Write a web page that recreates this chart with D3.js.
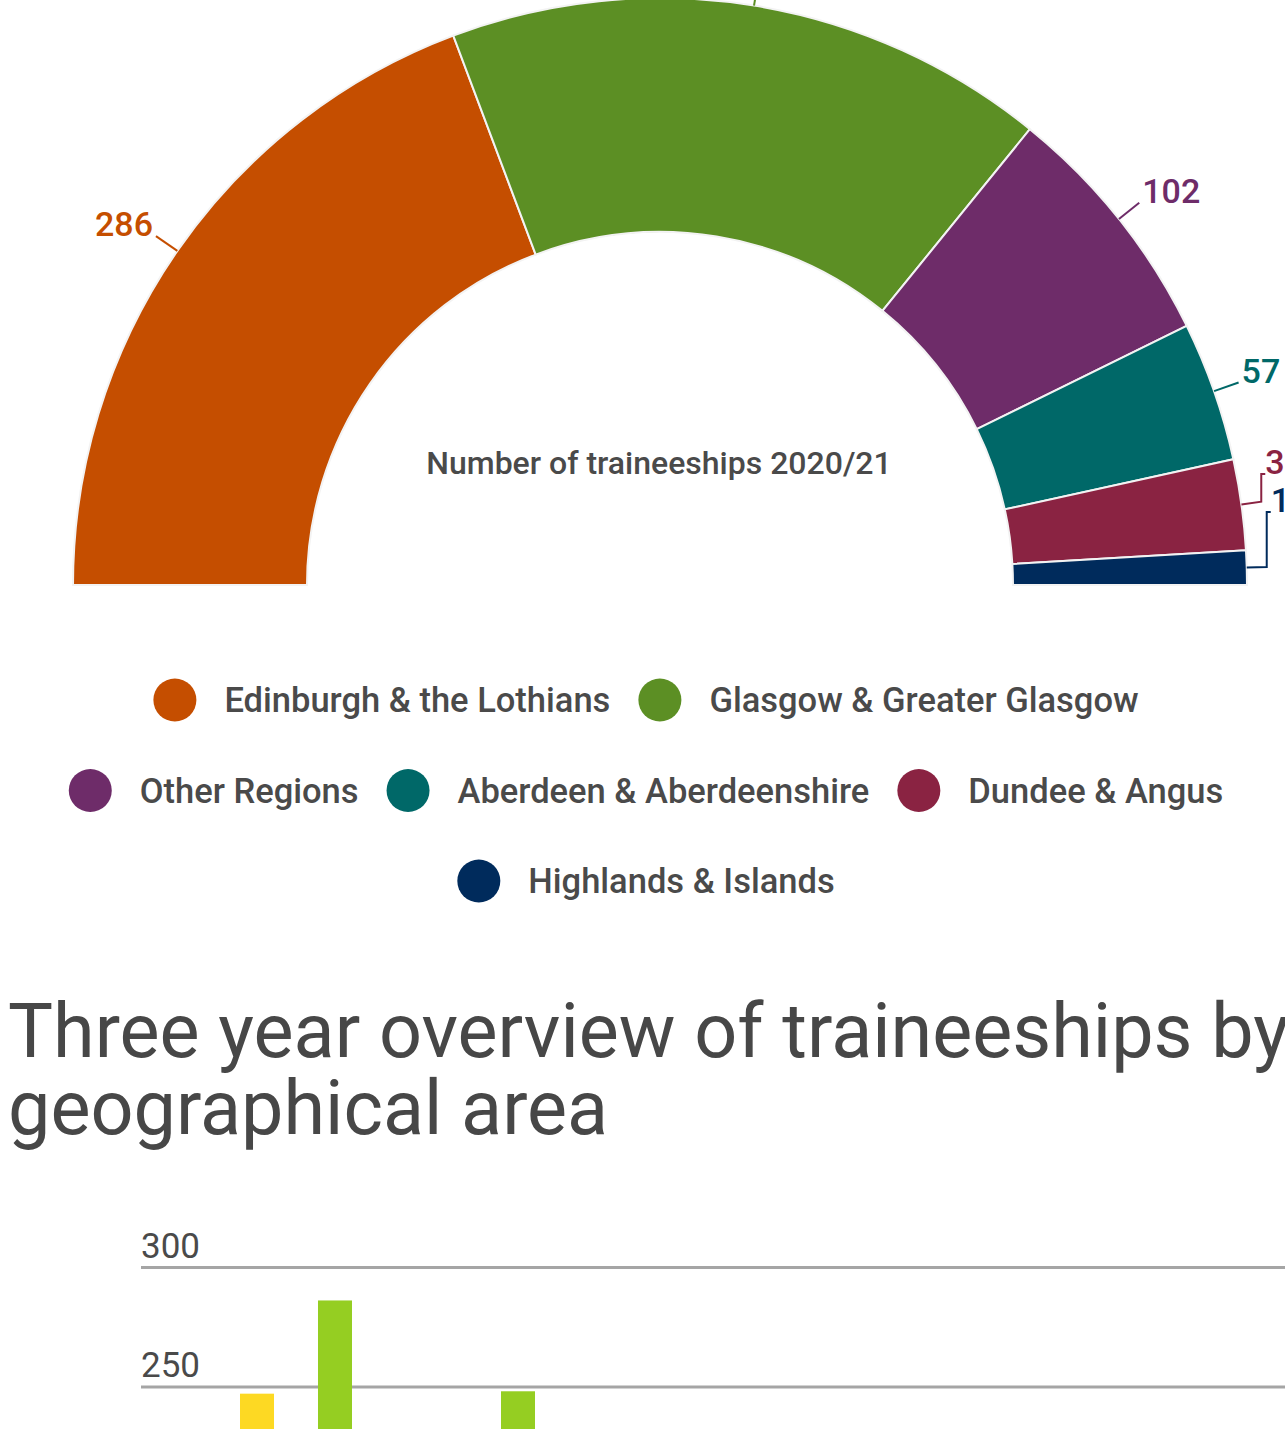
<!DOCTYPE html>
<html>
<head>
<meta charset="utf-8">
<script src="https://cdn.jsdelivr.net/npm/d3@7"></script>
<style>
  body { margin: 0; background: #fff; }
  svg { display: block; font-family: Roboto, sans-serif; }
</style>
</head>
<body>
<svg id="chart"></svg>
<script>
// half donut data (2020/21)
const regions = ['Edinburgh & the Lothians', 'Glasgow & Greater Glasgow', 'Other Regions',
  'Aberdeen & Aberdeenshire', 'Dundee & Angus', 'Highlands & Islands'];
const regionColors = ['#c54e00', '#5c8f24', '#6e2c69', '#006868', '#8a2342', '#002b5c'];
const traineeships2021 = [286, 246, 102, 57, 37, 14];

// three year overview data
const years = ['2018/19', '2019/20', '2020/21'];
const yearColors = ['#fdd923', '#2aa8c9', '#95ce22'];
const values1819 = [247, 201, 118, 64, 41, 19];
const values1920 = [228, 219, 109, 61, 35, 17];
const values2021 = [286, 248, 102, 57, 37, 14];
const yTicks = [0, 50, 100, 150, 200, 250, 300];

const width = 1285, height = 1429;
const textColor = '#4a4a4a';

const svg = d3.select('#chart')
  .attr('width', width)
  .attr('height', height);

// ---- half donut ----
const cx = 660, cy = 585, outerR = 587, innerR = 353;

const pie = d3.pie()
  .sort(null)
  .startAngle(-Math.PI / 2)
  .endAngle(Math.PI / 2);
const arc = d3.arc().innerRadius(innerR).outerRadius(outerR);
const arcs = pie(traineeships2021);

const donut = svg.append('g').attr('transform', `translate(${cx},${cy})`);

donut.selectAll('path.slice')
  .data(arcs)
  .join('path')
  .attr('class', 'slice')
  .attr('d', arc)
  .attr('fill', (d, i) => regionColors[i])
  .attr('stroke', '#f3f3f3')
  .attr('stroke-width', 2);

// labels: short radial leader, crowded ones pushed up with an elbow
const leadLen = 26, elbowLen = 20, labelGap = 38, labelFloor = -73;
const labels = arcs.map((d, i) => {
  const a = (d.startAngle + d.endAngle) / 2;
  const sx = Math.sin(a), sy = -Math.cos(a);
  return {
    i, sx, sy,
    p0: [sx * outerR, sy * outerR],
    p1: [sx * (outerR + leadLen), sy * (outerR + leadLen)],
    y: sy * (outerR + leadLen),
    right: sx > 0
  };
});

[true, false].forEach(side => {
  let limit = labelFloor;
  labels.filter(l => l.right === side)
    .sort((a, b) => b.p1[1] - a.p1[1])
    .forEach(l => {
      if (l.p1[1] > limit) { l.moved = true; l.y = limit; }
      limit = l.y - labelGap;
    });
});

labels.forEach(l => {
  const dir = l.right ? 1 : -1;
  let pts, tx;
  if (l.moved) {
    const e = [l.sx * (outerR + elbowLen), l.sy * (outerR + elbowLen)];
    pts = [l.p0, e, [e[0], l.y], [e[0] + 4 * dir, l.y]];
    tx = e[0] + 4 * dir;
  } else {
    pts = [l.p0, l.p1];
    tx = l.p1[0] + 3 * dir;
  }
  donut.append('path')
    .attr('d', d3.line()(pts))
    .attr('fill', 'none')
    .attr('stroke', regionColors[l.i])
    .attr('stroke-width', 2);
  donut.append('text')
    .attr('x', tx)
    .attr('y', l.y)
    .attr('text-anchor', l.right ? 'start' : 'end')
    .attr('fill', regionColors[l.i])
    .attr('font-size', 34)
    .attr('font-weight', 500)
    .text(traineeships2021[l.i]);
});

donut.append('text')
  .attr('x', -1)
  .attr('y', -111)
  .attr('text-anchor', 'middle')
  .attr('fill', textColor)
  .attr('font-size', 32)
  .attr('font-weight', 500)
  .text('Number of traineeships 2020/21');

// ---- legend ----
const legendMax = 1250, legendTop = 700, rowH = 90.5, dotR = 21.5, dotGap = 28;
const legend = svg.append('g');
const items = regions.map((name, i) => {
  const g = legend.append('g');
  g.append('circle').attr('r', dotR).attr('cx', dotR).attr('fill', regionColors[i]);
  const t = g.append('text')
    .attr('x', dotR * 2 + dotGap)
    .attr('dy', '0.35em')
    .attr('fill', textColor)
    .attr('font-size', 34.5)
    .attr('font-weight', 500)
    .text(name);
  const w = dotR * 2 + dotGap + t.node().getComputedTextLength() + dotGap;
  return { g, w };
});

const rows = [];
items.forEach(it => {
  const row = rows[rows.length - 1];
  if (row && row.w + it.w <= legendMax) { row.items.push(it); row.w += it.w; }
  else rows.push({ items: [it], w: it.w });
});
rows.forEach((row, r) => {
  let x = cx - row.w / 2;
  row.items.forEach(it => {
    it.g.attr('transform', `translate(${x},${legendTop + r * rowH})`);
    x += it.w;
  });
});

// ---- bar chart title ----
const title = svg.append('text')
  .attr('fill', '#474747')
  .attr('font-size', 75.5);
title.append('tspan').attr('x', 8).attr('y', 1057).text('Three year overview of traineeships by');
title.append('tspan').attr('x', 8).attr('y', 1134).text('geographical area');

// ---- grouped bars ----
const series = [values1819, values1920, values2021];

const x0 = d3.scaleBand()
  .domain(regions)
  .range([204.5, 1302.5])
  .paddingInner(0.388)
  .paddingOuter(0.194);

const x1 = d3.scaleBand()
  .domain(years)
  .range([0, x0.bandwidth()])
  .paddingInner(0.128);

const y = d3.scaleLinear()
  .domain([0, 300])
  .range([1984, 1267]);

// gridlines with labels sitting above them
const grid = svg.append('g')
  .attr('transform', 'translate(141,0)')
  .call(d3.axisRight(y).tickValues(yTicks).tickSize(width - 141));
grid.select('.domain').remove();
grid.attr('font-family', null).attr('font-size', 35);
grid.selectAll('.tick line').attr('stroke', '#a5a5a5').attr('stroke-width', 3);
grid.selectAll('.tick text')
  .attr('x', 0)
  .attr('dy', -10)
  .attr('fill', textColor);

svg.append('g')
  .selectAll('g')
  .data(regions)
  .join('g')
  .attr('transform', d => `translate(${x0(d)},0)`)
  .selectAll('rect')
  .data((d, i) => years.map((yr, j) => ({ yr, j, v: series[j][i] })))
  .join('rect')
  .attr('x', d => x1(d.yr))
  .attr('y', d => y(d.v))
  .attr('width', x1.bandwidth())
  .attr('height', d => y(0) - y(d.v))
  .attr('fill', d => yearColors[d.j]);
</script>
</body>
</html>
